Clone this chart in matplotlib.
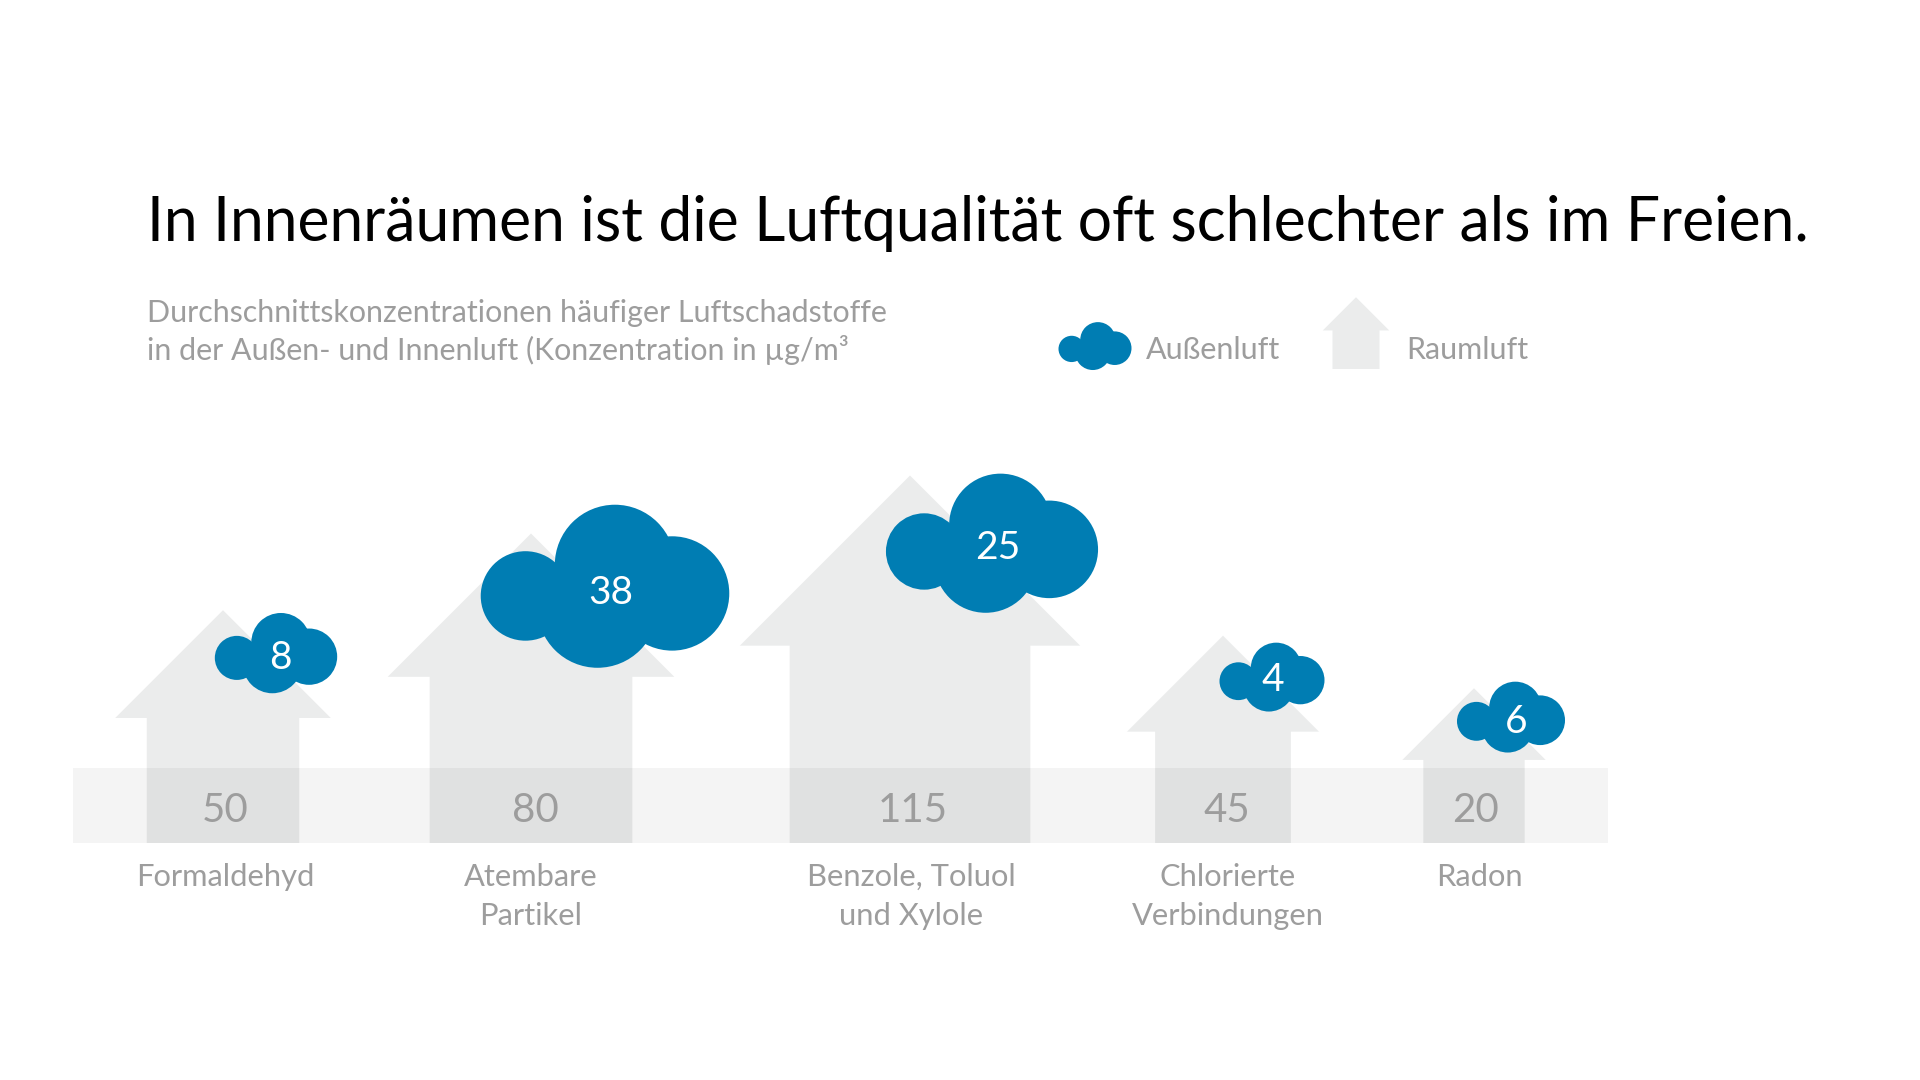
import numpy as np
import matplotlib.pyplot as plt
from matplotlib.patches import Circle, Polygon, Rectangle

# Data
categories = ['Formaldehyd', 'Atembare\nPartikel', 'Benzole, Toluol\nund Xylole', 'Chlorierte\nVerbindungen', 'Radon']
indoor_values = [50, 80, 115, 45, 20]
outdoor_values = [8, 38, 25, 4, 6]

# Layout, all in pixels of the 1920x1080 canvas
house_x = [223, 531, 910, 1223, 1474]
house_fit = [0.98, 1.03, 1.02, 0.92, 1.03]
cloud_x = [276, 605, 992, 1272, 1511]
cloud_y = [653, 586, 543, 677, 717]
cloud_fit = [1.03, 0.96, 1.01, 1.25, 1.05]
cloud_label_x = [280, 611, 998, 1273, 1516]
cloud_label_y = [658, 593, 548, 680, 722]
indoor_label_x = [225, 535, 913, 1227, 1475]
category_label_x = [225, 531, 911, 1228, 1479]

BASE_Y = 843
BAND_TOP = 768
HOUSE_K = 22.0
CLOUD_K = 42.0

BLUE = '#007DB3'
HOUSE_GREY = '#EBECEC'
TEXT_GREY = '#9D9D9D'
FONT = 'Lato'

plt.rcParams['font.family'] = FONT

fig = plt.figure(figsize=(19.2, 10.8), dpi=100)
ax = fig.add_axes([0, 0, 1, 1])
ax.set_xlim(0, 1920)
ax.set_ylim(1080, 0)
ax.axis('off')


def draw_house(x, base, w):
    # the head is always 45 degrees, so the shaft width fixes the whole shape
    head = w * np.sqrt(2) / 2
    shaft_h = 0.82 * w
    pts = [(x - w / 2, base), (x - w / 2, base - shaft_h), (x - head, base - shaft_h),
           (x, base - shaft_h - head), (x + head, base - shaft_h),
           (x + w / 2, base - shaft_h), (x + w / 2, base)]
    ax.add_patch(Polygon(pts, closed=True, facecolor=HOUSE_GREY, edgecolor='none', zorder=1))


def draw_cloud(x, y, w):
    lobes = [(-0.32, 0.04, 0.18), (0.04, -0.085, 0.242), (0.27, 0.03, 0.23),
             (-0.03, 0.087, 0.242), (0.0, 0.0, 0.2)]
    for dx, dy, r in lobes:
        ax.add_patch(Circle((x + dx * w, y + dy * w), r * w, facecolor=BLUE, edgecolor='none', zorder=3))


for i in range(len(categories)):
    draw_house(house_x[i], BASE_Y, HOUSE_K * np.sqrt(indoor_values[i]) * house_fit[i])
    draw_cloud(cloud_x[i], cloud_y[i], CLOUD_K * np.sqrt(outdoor_values[i]) * cloud_fit[i])
    ax.text(cloud_label_x[i], cloud_label_y[i], str(outdoor_values[i]), color='white', fontsize=28,
            ha='center', va='center', zorder=4)
    ax.text(indoor_label_x[i], BASE_Y - 32, str(indoor_values[i]), color=TEXT_GREY, fontsize=29,
            ha='center', va='center', zorder=4)
    ax.text(category_label_x[i], 863, categories[i], color=TEXT_GREY, fontsize=22.2,
            ha='center', va='top', linespacing=1.48, zorder=4)

# Transparent band, so it darkens the houses where they overlap
ax.add_patch(Rectangle((73, BAND_TOP), 1535, BASE_Y - BAND_TOP, facecolor='black', alpha=0.045,
                       edgecolor='none', zorder=2))

# Title and subtitle
ax.text(147, 224, 'In Innenräumen ist die Luftqualität oft schlechter als im Freien.', color='black',
        fontsize=43.7, ha='left', va='center')
ax.text(147, 332, 'Durchschnittskonzentrationen häufiger Luftschadstoffe\n'
        'in der Außen- und Innenluft (Konzentration in µg/m³', color=TEXT_GREY, fontsize=21.9,
        ha='left', va='center', linespacing=1.29)

# Legend
draw_cloud(1095, 346, 73)
ax.text(1146, 350, 'Außenluft', color=TEXT_GREY, fontsize=22, ha='left', va='center')
draw_house(1356, 369, 47)
ax.text(1406, 350, 'Raumluft', color=TEXT_GREY, fontsize=22, ha='left', va='center')

fig.savefig('out.png', dpi=100, facecolor='white')
